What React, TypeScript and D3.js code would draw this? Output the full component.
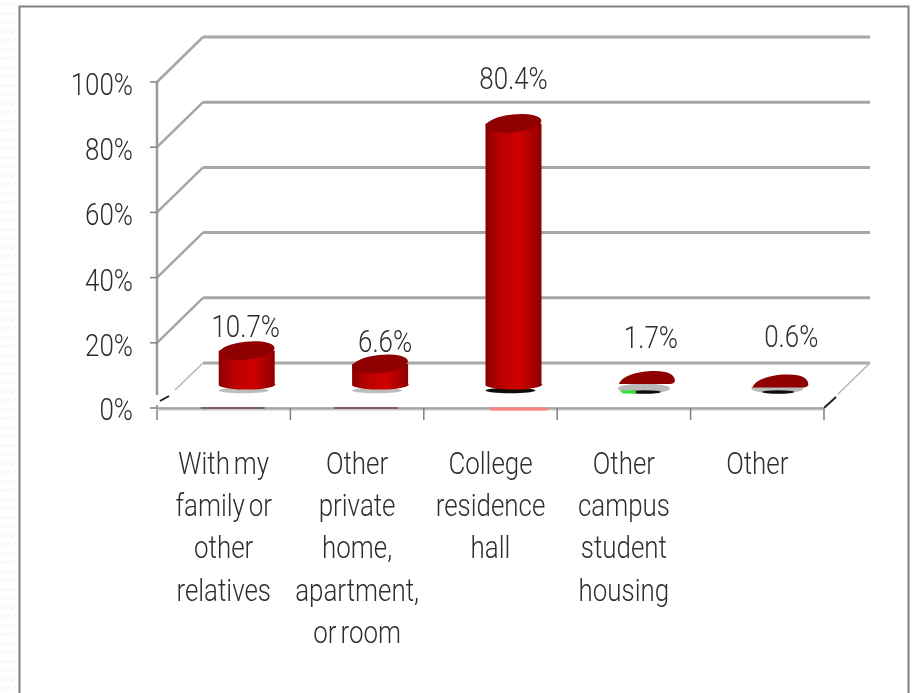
import React from "react";
import * as d3 from "d3";

const categories = ["family", "private", "hall", "campus", "other"];
const values = [10.7, 6.6, 80.4, 1.7, 0.6];
const valueLabels = ["10.7%", "6.6%", "80.4%", "1.7%", "0.6%"];
const yTicks = [0, 20, 40, 60, 80, 100];
const categoryLines = [
  ["With my", "family or", "other", "relatives"],
  ["Other", "private", "home,", "apartment,", "or room"],
  ["College", "residence", "hall"],
  ["Other", "campus", "student", "housing"],
  ["Other"],
];

// label placement tweaks, the original chart was hand adjusted
const labelDx = [-1, 5, 0, 4, 11];
const labelDy = [-14, -12, -34, -32, -37];

const width = 912;
const height = 693;
const depthX = 46;
const depthY = 45;

const x = d3.scaleBand<string>().domain(categories).range([157, 824]);
const y = d3.scaleLinear().domain([0, 100]).range([408, 82]);

// squeezed light type, the source font was a narrow light face
function Label({ px, py, anchor = "middle", children }: any) {
  return (
    <text
      transform={`translate(${px},${py}) scale(0.81,1)`}
      textAnchor={anchor}
      wordSpacing={-3}
    >
      {children}
    </text>
  );
}

function Cylinder({ name, value }: { name: string; value: number }) {
  const rx = 28;
  const cx = (x(name) as number) + x.bandwidth() / 2 + depthX / 2;
  const base = y(0) - depthY / 2;
  const top = y(value) - depthY / 2;
  const x0 = cx - rx;
  const x1 = cx + rx;

  if (value <= 3) {
    // short bars collapse to a flat dome over a grey and black shadow
    const dome = top - 1;
    return (
      <g>
        <ellipse cx={cx - 3} cy={base + 3} rx={rx - 2} ry={5} fill="#b9b9b9" />
        <ellipse cx={cx - 2} cy={base + 6.5} rx={16} ry={1.8} fill="#111" />
        {value > 1 && (
          <path d={`M${x0 + 1},${base + 5} h16 v3 h-13 Z`} fill="#35e035" />
        )}
        <path
          d={`M${x0},${dome + 5} C${x0 + 3},${dome - 3} ${cx - 10},${dome - 8} ${cx + 8},${dome - 8} C${x1 - 6},${dome - 8} ${x1},${dome - 4} ${x1},${dome + 2} C${x1},${dome + 4} ${x1 - 3},${dome + 5} ${x1 - 5},${dome + 5} Z`}
          fill="#8f0000"
        />
      </g>
    );
  }

  return (
    <g>
      <ellipse
        cx={cx - 3}
        cy={base + 5}
        rx={rx - 3}
        ry={2.8}
        fill={value > 50 ? "#111" : "#bdbdbd"}
      />
      <path
        d={`M${x0},${top} L${x0},${base} A${rx},5 0 0 0 ${x1},${base - 2} L${x1},${top} Z`}
        fill="url(#barBody)"
      />
      <ellipse
        cx={cx}
        cy={top}
        rx={rx}
        ry={9}
        fill="#8f0000"
        transform={`rotate(-6 ${cx} ${top})`}
      />
    </g>
  );
}

export default function App() {
  const backX0 = 157 + depthX;
  const backX1 = 870;
  const floorLeft = 157;
  const floorRight = 824;

  return (
    <svg
      width={width}
      height={height}
      style={{ position: "absolute", left: 0, top: 0, background: "#fff" }}
    >
      <defs>
        <linearGradient id="barBody" x1="0" x2="1" y1="0" y2="0">
          <stop offset="0" stopColor="#8a0606" />
          <stop offset="0.25" stopColor="#b80000" />
          <stop offset="0.6" stopColor="#cf0000" />
          <stop offset="0.85" stopColor="#a90000" />
          <stop offset="1" stopColor="#8a0606" />
        </linearGradient>
        <pattern id="zigzag" width="12" height="9" patternUnits="userSpaceOnUse">
          <path d="M0,6 L3,3 L6,6 L9,3 L12,6" fill="none" stroke="#f3f3f3" strokeWidth="1" />
        </pattern>
        <filter id="soft" x="-5%" y="-5%" width="110%" height="110%">
          <feGaussianBlur stdDeviation="0.5" />
        </filter>
        <filter id="softText" x="-5%" y="-5%" width="110%" height="110%">
          <feGaussianBlur stdDeviation="0.3" />
        </filter>
      </defs>

      <rect x={0} y={0} width={width} height={height} fill="url(#zigzag)" />
      <rect x={19.5} y={6.5} width={889} height={height} fill="#fff" stroke="#808080" strokeWidth={2} />

      <g filter="url(#soft)">
        {/* back wall and side wall grid */}
        {yTicks.slice(1).map((t) => (
          <g key={t}>
            <line x1={floorLeft} x2={backX0} y1={y(t)} y2={y(t) - depthY} stroke="#a6a6a6" strokeWidth={2.5} />
            <line x1={backX0} x2={backX1} y1={y(t) - depthY} y2={y(t) - depthY} stroke="#a6a6a6" strokeWidth={3} />
          </g>
        ))}
        <line x1={backX0} x2={backX1} y1={y(0) - depthY} y2={y(0) - depthY} stroke="#a9a9a9" strokeWidth={3} />
        <line x1={floorLeft + 18} x2={backX0} y1={y(0) - 18} y2={y(0) - depthY} stroke="#b5b5b5" strokeWidth={1.5} />
        <line x1={floorRight + 14} x2={backX1} y1={y(0) - 14} y2={y(0) - depthY} stroke="#b5b5b5" strokeWidth={1.5} />
        <line x1={floorLeft + 3} x2={floorLeft + 12} y1={y(0) - 7} y2={y(0) - 12} stroke="#222" strokeWidth={2} />
        <line x1={floorRight} x2={floorRight + 12} y1={y(0)} y2={y(0) - 11} stroke="#222" strokeWidth={2} />

        {/* axes */}
        <line x1={floorLeft} x2={floorLeft} y1={y(100)} y2={y(0) - 13} stroke="#999" strokeWidth={2.5} />
        <line x1={floorLeft} x2={floorLeft} y1={y(0) - 3} y2={y(0) + 12} stroke="#808080" strokeWidth={1.5} />
        <line x1={floorLeft} x2={floorRight} y1={y(0) + 1} y2={y(0) + 1} stroke="#c4c4c4" strokeWidth={3} />
        <line x1={floorLeft} x2={floorRight} y1={y(0)} y2={y(0)} stroke="#808080" strokeWidth={1} />
        {yTicks.map((t) => (
          <line key={t} x1={floorLeft - 7} x2={floorLeft} y1={y(t)} y2={y(t)} stroke="#808080" strokeWidth={1.5} />
        ))}
        {[...categories.slice(1).map((c) => x(c) as number), floorRight].map((px) => (
          <line key={px} x1={px} x2={px} y1={y(0)} y2={y(0) + 12} stroke="#808080" strokeWidth={1.5} />
        ))}

        {/* floor reflection left from the export */}
        {categories.slice(0, 3).map((c, i) => {
          const left = (x(c) as number) + x.bandwidth() / 2 - (i === 2 ? 0 : 23);
          return (
            <line
              key={c}
              x1={left}
              x2={left + (i === 2 ? 57 : 64)}
              y1={y(0) + (i === 2 ? 1 : 0)}
              y2={y(0) + (i === 2 ? 1 : 0)}
              stroke={i === 2 ? "#ff8080" : "#6f4a4a"}
              strokeWidth={i === 2 ? 3 : 1.5}
            />
          );
        })}

        {categories.map((c, i) => (
          <Cylinder key={c} name={c} value={values[i]} />
        ))}
      </g>

      <g
        filter="url(#softText)"
        fontFamily="Roboto, 'Open Sans', sans-serif"
        fontWeight={300}
        fontSize={32}
        fill="#2e2e2e"
      >
        {yTicks.map((t) => (
          <Label key={t} px={133} py={y(t) + (t === 0 ? 12 : 13)} anchor="end">
            {t}%
          </Label>
        ))}
        {categories.map((c, i) => (
          <Label
            key={c}
            px={(x(c) as number) + x.bandwidth() / 2 + depthX / 2 + labelDx[i]}
            py={y(values[i]) - depthY / 2 + labelDy[i]}
          >
            {valueLabels[i]}
          </Label>
        ))}
        {categories.map((c, i) =>
          categoryLines[i].map((line, j) => (
            <Label
              key={line + j}
              px={(x(c) as number) + x.bandwidth() / 2}
              py={474 + j * 42.2}
            >
              {line}
            </Label>
          ))
        )}
      </g>
    </svg>
  );
}
